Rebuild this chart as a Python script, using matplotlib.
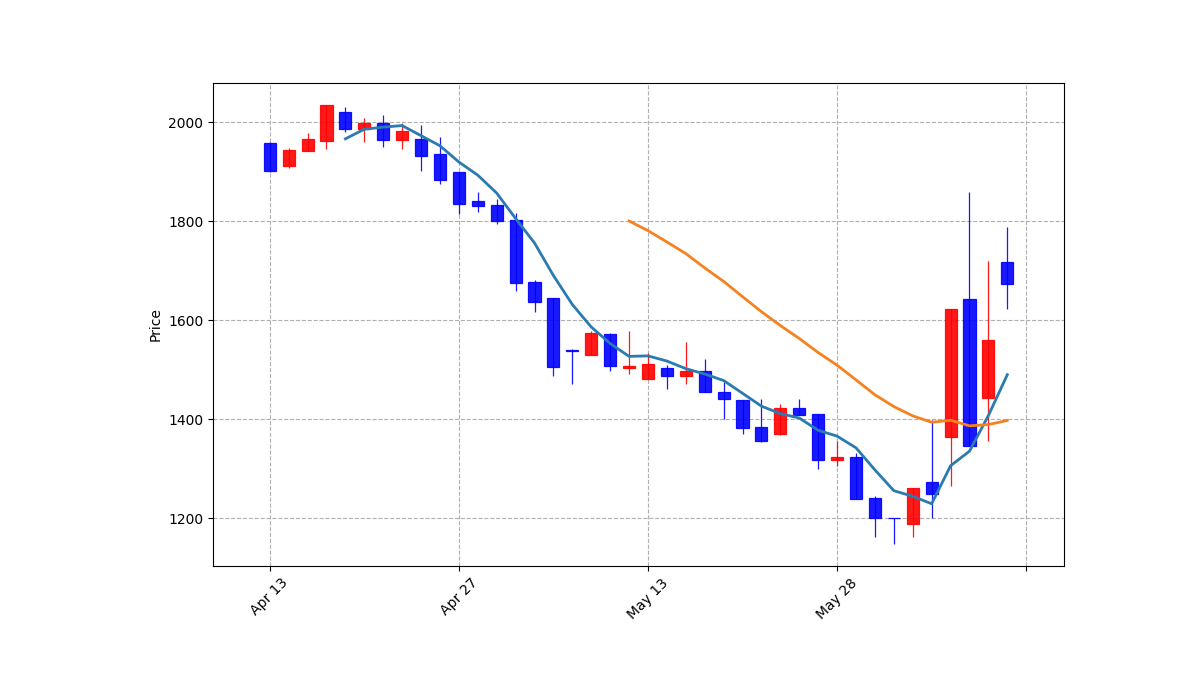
import matplotlib
matplotlib.use("Agg")
import matplotlib.pyplot as plt
import numpy as np
import pandas as pd

# ---- data ----
opens = [1958, 1911, 1942, 1962, 2020, 1987, 1998, 1964, 1966, 1935,
         1899, 1840, 1832, 1802, 1677, 1644, 1540, 1530, 1572, 1503,
         1481, 1504, 1486, 1497, 1455, 1438, 1384, 1369, 1422, 1410,
         1317, 1323, 1240, 1200, 1188, 1272, 1364, 1642, 1443, 1717]
highs = [1960, 1948, 1977, 2034, 2030, 2009, 2014, 1999, 1995, 1970,
         1900, 1859, 1844, 1816, 1681, 1645, 1541, 1578, 1574, 1578,
         1533, 1509, 1556, 1521, 1475, 1438, 1440, 1430, 1440, 1410,
         1355, 1332, 1245, 1200, 1260, 1398, 1622, 1859, 1719, 1788]
lows = [1900, 1908, 1942, 1945, 1980, 1959, 1950, 1945, 1902, 1875,
        1815, 1818, 1795, 1659, 1616, 1486, 1471, 1530, 1498, 1491,
        1480, 1461, 1471, 1454, 1401, 1370, 1354, 1368, 1409, 1300,
        1305, 1238, 1162, 1147, 1162, 1199, 1265, 1346, 1356, 1622]
closes = [1902, 1943, 1966, 2034, 1986, 1999, 1964, 1982, 1932, 1884,
          1835, 1831, 1801, 1675, 1637, 1506, 1538, 1574, 1508, 1507,
          1511, 1486, 1497, 1454, 1441, 1382, 1356, 1422, 1409, 1317,
          1323, 1238, 1199, 1199, 1260, 1248, 1622, 1346, 1559, 1673]
tick_positions = [0, 10, 20, 30, 40]
tick_labels = ["Apr 13", "Apr 27", "May 13", "May 28", ""]
ma_periods = [5, 20]

up_color = (1.0, 0.0, 0.0, 0.9)
down_color = (0.0, 0.0, 1.0, 0.9)
ma_colors = ["#2a7bb0", "#f5821f"]

fig = plt.figure(figsize=(11.82, 6.90), dpi=100)
ax = fig.add_axes([0.1802, 0.1797, 0.7200, 0.7000])

x = np.arange(len(closes))
o = np.array(opens, float)
h = np.array(highs, float)
l = np.array(lows, float)
c = np.array(closes, float)
colors = [up_color if cc >= oo else down_color for oo, cc in zip(o, c)]

ax.vlines(x, l, h, colors=colors, linewidth=0.9, zorder=2)
bottoms = np.minimum(o, c)
heights = np.abs(c - o)
ax.bar(x, heights, bottom=bottoms, width=0.64, color=colors,
       edgecolor=colors, linewidth=0.9, zorder=3)

s = pd.Series(c)
for p, col in zip(ma_periods, ma_colors):
    ma = s.rolling(p).mean()
    ax.plot(x, ma.values, color=col, linewidth=2.0, zorder=4)

ax.set_xlim(-3.0, 42.0)
ax.set_ylim(1103, 2079)
ax.set_yticks([1200, 1400, 1600, 1800, 2000])
ax.set_xticks(tick_positions)
ax.set_xticklabels(tick_labels, rotation=45, ha="center")
ax.grid(True, linestyle="--", color="#b0b0b0", linewidth=0.8)
ax.set_axisbelow(True)
ax.set_ylabel("Price", fontsize=10)
ax.tick_params(labelsize=10)

fig.savefig("out.png", dpi=100)
